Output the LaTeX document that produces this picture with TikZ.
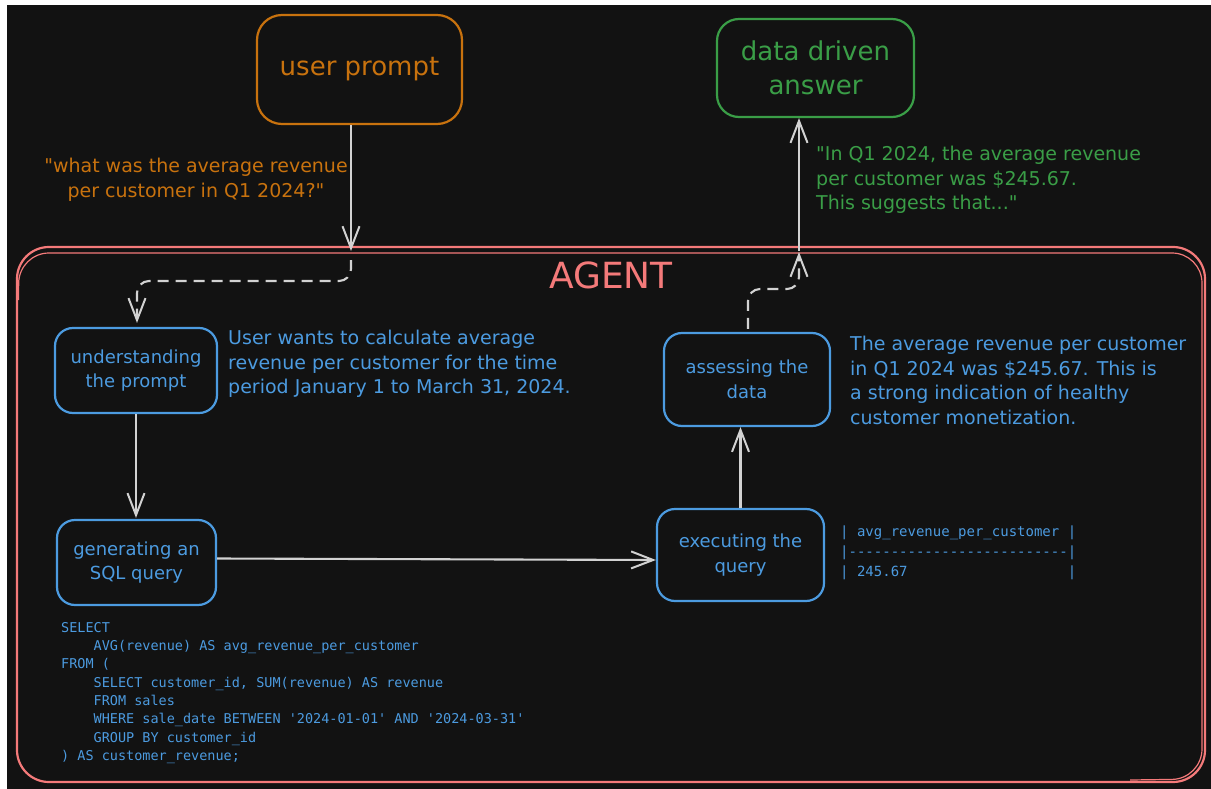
\documentclass[tikz,border=0pt]{standalone}
\usepackage{fontspec}
\setmainfont{DejaVu Sans}[Ligatures=TeXOff]
\setmonofont{DejaVu Sans Mono}
\usetikzlibrary{arrows.meta}
\definecolor{bgc}{HTML}{121212}
\definecolor{corange}{HTML}{C8720E}
\definecolor{cgreen}{HTML}{3A9E47}
\definecolor{cblue}{HTML}{4C9BE0}
\definecolor{cred}{HTML}{F47A7A}
\definecolor{cgray}{HTML}{D2D2D2}
\newcommand\ind{\hphantom{0000}}
\begin{document}
\begin{tikzpicture}[x=1pt,y=-1pt,
  box/.style={draw, line width=2.2pt, align=center, inner sep=0pt},
  bluebox/.style={box, rounded corners=18pt, draw=cblue, text=cblue, font=\fontsize{18}{24.5}\selectfont},
  arr/.style={draw=cgray, line width=2.1pt, -{Straight Barb[length=22pt,width=17pt,line width=2pt]}},
  darr/.style={arr, dash pattern=on 11pt off 7pt, rounded corners=12pt},
  note/.style={inner sep=0pt, font=\fontsize{19}{24.5}\selectfont},
  code/.style={inner sep=0pt, text=cblue, align=left, anchor=north west}]
\useasboundingbox (0,0) rectangle (1211,789);
\fill[white] (0,0) rectangle (1211,789);
\fill[bgc] (7,5) rectangle (1211,789);

% agent container
\draw[cred, line width=2.2pt, rounded corners=32pt] (17,247) rectangle (1205,782);
\draw[cred, line width=1.2pt, rounded corners=30pt] (18.5,300) -- (19,253) -- (1202,253) -- (1202,779) -- (1130,780);
\node[text=cred, font=\fontsize{36}{40}\selectfont, inner sep=0pt] (agent) at (611,275) {AGENT};

% top boxes
\node[box, rounded corners=25pt, draw=corange, text=corange, font=\fontsize{26}{30}\selectfont,
      minimum width=205pt, minimum height=109pt] (user) at (359.5,69.5) {user prompt};
\node[box, rounded corners=22pt, draw=cgreen, text=cgreen, font=\fontsize{26}{34}\selectfont,
      minimum width=197pt, minimum height=98pt] (ans) at (815.5,68) {data driven\\answer};

% inner boxes
\node[bluebox, minimum width=162pt, minimum height=85pt] (und) at (136,370.5) {understanding\\the prompt};
\node[bluebox, minimum width=159pt, minimum height=85pt] (gen) at (136.5,562.5) {generating an\\SQL query};
\node[bluebox, minimum width=167pt, minimum height=92pt] (exe) at (740.5,555) {executing the\\query};
\node[bluebox, minimum width=166pt, minimum height=93pt] (ass) at (747,379.5) {assessing the\\data};

% texts
\node[note, text=corange, align=center, anchor=north] (q) at (196,158)
  {"what was the average revenue\\per customer in Q1 2024?"};
\node[note, text=cgreen, align=left, anchor=north west] (a) at (816,146)
  {"In Q1 2024, the average revenue\\per customer was \$245.67.\\This suggests that..."};
\node[note, text=cblue, align=left, anchor=north west] (t1) at (228,330)
  {User wants to calculate average\\revenue per customer for the time\\period January 1 to March 31, 2024.};
\node[note, text=cblue, align=left, anchor=north west] (t2) at (850,336)
  {The average revenue per customer\\in Q1 2024 was \$245.67. This is\\a strong indication of healthy\\customer monetization.};

\node[code, font=\fontsize{14}{20}\ttfamily] (tab) at (840,526)
  {|\hphantom{0}avg\_revenue\_per\_customer\hphantom{0}|\\
   |--------------------------|\\
   |\hphantom{0}245.67\hphantom{0000000000000000000}|};

\node[code, font=\fontsize{13.5}{18.3}\ttfamily] (sql) at (61,622)
  {SELECT\\
   \ind AVG(revenue) AS avg\_revenue\_per\_customer\\
   FROM (\\
   \ind SELECT customer\_id, SUM(revenue) AS revenue\\
   \ind FROM sales\\
   \ind WHERE sale\_date BETWEEN '2024-01-01' AND '2024-03-31'\\
   \ind GROUP BY customer\_id\\
   ) AS customer\_revenue;};

% connectors
\coordinate (uin) at (351,251);
\coordinate (d1) at (351,281);
\coordinate (d2) at (137,281);
\coordinate (aout) at (799,251);
\coordinate (d3) at (748,289);
\coordinate (d4) at (799,289);

\draw[arr] (user.south -| uin) -- (uin);
\draw[darr, shorten <=9pt, shorten >=4pt] (uin) -- (d1) -- (d2) -- (d2 |- und.north);
\draw[arr, shorten >=1pt] (und.south) -- (und.south |- gen.north);
\draw[arr] ([yshift=4pt]gen.east) -- ([yshift=-5pt]exe.west);
\draw[arr] (exe.north) -- (exe.north |- ass.south);
\draw[darr, shorten <=3pt, shorten >=1pt] (ass.north -| d3) -- (d3) -- (d4) -- (aout);
\draw[arr] (aout) -- (aout |- ans.south);
\end{tikzpicture}
\end{document}
